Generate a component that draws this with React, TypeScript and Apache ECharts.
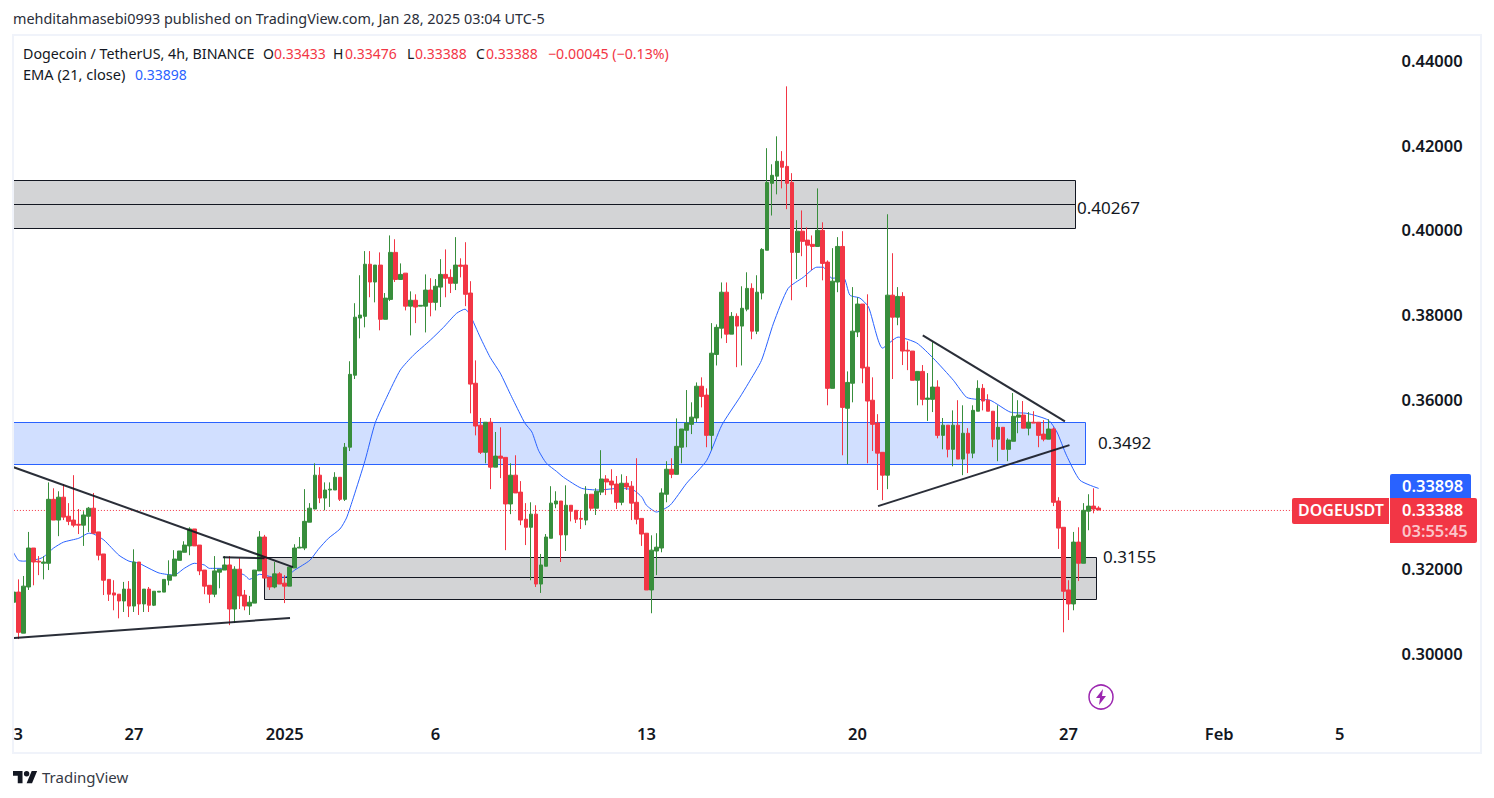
import React, { useEffect, useRef } from "react";
import * as echarts from "echarts";

// Each candle: [open, close, low, high]
const candlesDec1 = [
[.3121,.3145,.3121,.3188],[.3145,.3050,.3034,.3175],[.3048,.3159,.3048,.3183],[.3157,.3249,.3150,.3287],[.3249,.3216,.3161,.3249],
[.3218,.3216,.3185,.3230],[.3213,.3216,.3175,.3230],[.3213,.3364,.3197,.3404],[.3364,.3315,.3315,.3390],[.3315,.3369,.3277,.3383],
[.3369,.3322,.3315,.3400],[.3324,.3312,.3303,.3355],[.3315,.3303,.3298,.3421],[.3305,.3303,.3282,.3341],[.3303,.3327,.3254,.3336],
[.3324,.3343,.3287,.3346],[.3343,.3284,.3282,.3379],[.3287,.3232,.3220,.3287],[.3235,.3173,.3138,.3235],[.3175,.3140,.3124,.3175],
[.3143,.3138,.3102,.3173],[.3140,.3124,.3083,.3140],[.3124,.3152,.3098,.3169],[.3152,.3112,.3086,.3171],[.3112,.3216,.3098,.3246],
[.3216,.3117,.3091,.3216],[.3117,.3152,.3098,.3152],[.3152,.3114,.3098,.3157],[.3114,.3147,.3112,.3147],[.3145,.3147,.3145,.3147],
[.3145,.3175,.3145,.3175],[.3173,.3185,.3161,.3220],[.3183,.3223,.3183,.3244],[.3220,.3242,.3220,.3242],[.3239,.3256,.3239,.3265],
[.3254,.3294,.3232,.3298],[.3294,.3254,.3254,.3294],[.3256,.3195,.3185,.3256],[.3197,.3159,.3140,.3197],[.3161,.3140,.3119,.3161],
[.3140,.3195,.3133,.3230],[.3192,.3199,.3154,.3199],[.3197,.3209,.3197,.3230],[.3209,.3105,.3067,.3230],[.3105,.3199,.3072,.3206],
[.3199,.3136,.3105,.3225],[.3138,.3112,.3102,.3150],[.3112,.3121,.3091,.3136],[.3119,.3197,.3119,.3197],[.3195,.3275,.3195,.3289],
[.3275,.3178,.3178,.3280],[.3180,.3157,.3150,.3180],[.3157,.3188,.3154,.3216],[.3188,.3164,.3164,.3192],
];
const candlesJan1 = [
[.3166,.3159,.3119,.3185],[.3159,.3204,.3159,.3204],[.3202,.3249,.3202,.3258],[.3249,.3251,.3249,.3275],[.3249,.3312,.3244,.3388],
[.3310,.3343,.3310,.3355],[.3341,.3421,.3341,.3449],[.3421,.3367,.3355,.3440],[.3367,.3386,.3338,.3404],[.3386,.3388,.3346,.3404],
[.3386,.3416,.3386,.3428],[.3416,.3364,.3360,.3416],[.3364,.3487,.3360,.3497],[.3487,.3659,.3478,.3690],[.3657,.3794,.3648,.3827],
[.3792,.3799,.3744,.3893],[.3796,.3919,.3770,.3950],[.3919,.3877,.3841,.3950],[.3877,.3917,.3829,.3917],[.3917,.3789,.3763,.3947],
[.3789,.3839,.3789,.3851],[.3836,.3947,.3832,.3987],[.3947,.3883,.3877,.3978],[.3883,.3895,.3883,.3921],[.3898,.3820,.3810,.3898],
[.3820,.3834,.3751,.3855],[.3834,.3818,.3780,.3848],[.3820,.3822,.3820,.3822],[.3820,.3858,.3758,.3895],[.3858,.3829,.3796,.3886],
[.3829,.3867,.3810,.3884],[.3865,.3895,.3818,.3931],[.3895,.3886,.3841,.3954],[.3888,.3874,.3851,.3907],[.3874,.3917,.3858,.3983],
[.3917,.3914,.3888,.3933],[.3917,.3848,.3820,.3971],[.3851,.3636,.3567,.3879],[.3638,.3537,.3515,.3692],[.3539,.3475,.3471,.3556],
[.3475,.3546,.3449,.3546],[.3546,.3440,.3388,.3556],[.3440,.3466,.3440,.3523],[.3466,.3461,.3414,.3534],[.3463,.3353,.3244,.3463],
[.3353,.3421,.3329,.3449],[.3421,.3379,.3379,.3468],[.3381,.3315,.3303,.3407],[.3317,.3298,.3256,.3355],[.3298,.3329,.3173,.3357],
[.3329,.3164,.3157,.3350],[.3164,.3209,.3143,.3235],[.3206,.3275,.3206,.3282],[.3272,.3355,.3272,.3395],
];
const candlesJan2 = [
[.3353,.3360,.3343,.3383],[.3360,.3280,.3216,.3360],[.3280,.3350,.3242,.3397],[.3350,.3336,.3312,.3350],[.3338,.3317,.3308,.3338],
[.3319,.3317,.3294,.3338],[.3315,.3376,.3303,.3395],[.3376,.3343,.3338,.3376],[.3343,.3383,.3327,.3390],[.3381,.3412,.3374,.3480],
[.3412,.3405,.3374,.3421],[.3407,.3398,.3376,.3435],[.3400,.3357,.3341,.3419],[.3357,.3402,.3350,.3423],[.3402,.3393,.3386,.3419],
[.3395,.3355,.3315,.3407],[.3357,.3317,.3305,.3461],[.3319,.3282,.3254,.3319],[.3284,.3150,.3150,.3284],[.3150,.3244,.3095,.3279],
[.3242,.3251,.3185,.3284],[.3249,.3379,.3239,.3390],[.3376,.3435,.3357,.3454],[.3435,.3423,.3414,.3461],[.3423,.3489,.3423,.3555],
[.3487,.3530,.3449,.3530],[.3527,.3544,.3487,.3622],[.3541,.3558,.3518,.3593],[.3556,.3631,.3546,.3640],[.3631,.3607,.3581,.3652],
[.3610,.3515,.3487,.3626],[.3515,.3709,.3480,.3780],[.3706,.3770,.3680,.3777],[.3768,.3853,.3744,.3876],[.3853,.3754,.3733,.3876],
[.3754,.3796,.3754,.3806],[.3796,.3773,.3676,.3803],[.3773,.3815,.3680,.3867],[.3813,.3862,.3808,.3900],[.3862,.3761,.3742,.3874],
[.3761,.3853,.3754,.3893],[.3851,.3954,.3836,.3957],[.3952,.4112,.3952,.4193],[.4110,.4129,.4034,.4155],[.4127,.4162,.4084,.4221],
[.4162,.4148,.4098,.4186],[.4150,.4110,.4049,.4339],[.4112,.3947,.3834,.4134],[.3947,.3997,.3884,.4023],[.3997,.3973,.3938,.4046],
[.3976,.3964,.3865,.4006],[.3966,.3961,.3905,.3987],[.3961,.3999,.3961,.4098],[.3999,.3921,.3881,.4018],
];
const candlesJan3 = [
[.3924,.3626,.3586,.3928],[.3626,.3879,.3626,.3957],[.3877,.3961,.3853,.3983],[.3961,.3581,.3468,.3997],[.3579,.3640,.3447,.3666],
[.3638,.3761,.3593,.3865],[.3759,.3825,.3747,.3841],[.3825,.3674,.3638,.3825],[.3676,.3596,.3449,.3848],[.3598,.3541,.3478,.3652],
[.3544,.3473,.3386,.3565],[.3475,.3421,.3362,.3475],[.3421,.3846,.3388,.4037],[.3846,.3794,.3648,.3945],[.3794,.3843,.3775,.3865],
[.3843,.3714,.3681,.3853],[.3716,.3714,.3669,.3737],[.3714,.3645,.3645,.3714],[.3645,.3666,.3586,.3666],[.3666,.3600,.3586,.3681],
[.3600,.3603,.3549,.3662],[.3600,.3629,.3570,.3735],[.3629,.3515,.3508,.3645],[.3515,.3539,.3482,.3556],[.3539,.3482,.3463,.3539],
[.3482,.3539,.3442,.3574],[.3539,.3459,.3459,.3598],[.3459,.3520,.3421,.3586],[.3520,.3473,.3426,.3532],[.3473,.3574,.3461,.3586],
[.3572,.3626,.3572,.3645],[.3626,.3596,.3574,.3636],[.3598,.3572,.3572,.3612],[.3572,.3506,.3487,.3572],[.3506,.3534,.3454,.3586],
[.3534,.3482,.3482,.3534],[.3482,.3504,.3454,.3508],[.3501,.3560,.3501,.3615],[.3558,.3563,.3520,.3598],[.3563,.3532,.3532,.3596],
[.3532,.3546,.3515,.3570],[.3546,.3544,.3544,.3572],[.3546,.3515,.3487,.3546],[.3518,.3506,.3501,.3551],[.3506,.3530,.3506,.3553],
[.3530,.3357,.3348,.3534],[.3360,.3296,.3247,.3369],[.3298,.3147,.3050,.3298],[.3150,.3117,.3079,.3173],[.3117,.3263,.3102,.3287],
[.3263,.3213,.3171,.3298],[.3213,.3338,.3213,.3355],[.3336,.3348,.3291,.3376],[.3348,.3341,.3331,.3390],[.33433,.33388,.33388,.33476],
];
// EMA (21, close): [bar position, value]
const emaPoints = [
[0,.3239],[1,.3220],[2,.3218],[5,.3223],[6,.3228],[8,.3249],[10,.3263],[13,.3272],[15,.3284],[16,.3282],[18,.3268],[21,.3232],[23,.3218],[25,.3213],[27,.3201],[29,.3190],[32,.3185],[34,.3201],[36,.3213],[38,.3209],[39,.3201],[42,.3201],[43,.3199],[46,.3185],[47,.3175],[49,.3187],[52,.3180],[54,.3180],[56,.3197],[59,.3220],
[60.7,.3246],[62.7,.3272],[65,.3294],[66.3,.3320],[67.7,.3369],[70,.3456],[72,.3544],[74.3,.3605],[77,.3669],[79.6,.3704],[83,.3740],[85.6,.3770],[88.2,.3803],[89.9,.3813],[90.9,.3799],[92.9,.3747],[94.9,.3699],[96.9,.3662],[98.8,.3615],[99.5,.3598],[101.8,.3544],[103.2,.3523],[104.5,.3480],[106.1,.3449],[108.1,.3430],[109.5,.3416],[113.1,.3390],[116.4,.3386],[120.7,.3390],[123.4,.3386],[125.1,.3369],[126,.3350],[128,.3334],[130.7,.3350],[134,.3402],[138,.3456],[141,.3539],[144.6,.3605],[146.3,.3638],[148.9,.3692],[151.3,.3780],[154.2,.3862],[157.2,.3888],[159.9,.3912],[161.2,.3912],[162.9,.3886],[165.2,.3888],[166.5,.3846],[168.5,.3839],[170.2,.3818],[173,.3721],[176.1,.3747],[179.8,.3733],[183.1,.3697],[187.1,.3645],[189.7,.3605],[191.7,.3600],[194.4,.3598],[198.4,.3570],[201.7,.3567],[206,.3551],[207.7,.3523],[209.6,.3468],[212.3,.3409],[216,.33898],
];
const dayTicks: Record<number, string> = { 0: "3", 24: "27", 54: "2025", 84: "6", 126: "13", 168: "20", 210: "27", 240: "Feb", 264: "5" };
const barSlots = 275;
const lastClose = 0.33377;
// Zones: [from bar, upper, to bar, lower, middle]
const zoneResistance = [-0.5, 0.4118, 211.3, 0.4005, 0.4062];
const zoneBlue = [-0.5, 0.3546, 213.3, 0.3447];
const zoneSupport = [49.9, 0.3228, 215.5, 0.3130, 0.3180];
// Trend lines: pairs of [bar position, price]
const lineFalling1 = [[-0.5, 0.3442], [55.65, 0.3204]];
const lineRising1 = [[-0.5, 0.3036], [55.05, 0.3084]];
const lineFalling2 = [[181, 0.3751], [209.3, 0.3548]];
const lineRising2 = [[172.1, 0.3348], [210.2, 0.3492]];
const lineBoxTop = [[41.7, 0.3227], [50, 0.3225]];
const lastCloseLine = [[-0.5, lastClose], [barSlots - 0.5, lastClose]];

const FONT = "'Noto Sans', sans-serif";
const UP = "#388e3c";
const DOWN = "#f23645";
const DARK = "#131722";

export default function App() {
  const ref = useRef<HTMLDivElement>(null);
  useEffect(() => {
    const chart = echarts.init(ref.current!, null, { renderer: "svg" });
    echarts.graphic.registerShape(
      "tvlogo",
      echarts.graphic.extendPath(
        "M14 25H7V14H0V7h14v18zM28 25h-8l7.5-18h8L28 25zM24 11a4 4 0 1 1-8 0a4 4 0 1 1 8 0z",
        {}
      ) as any
    );
    const candles = [...candlesDec1, ...candlesJan1, ...candlesJan2, ...candlesJan3];
    const categories = Array.from({ length: barSlots }, (_, i) => dayTicks[i] ?? "");
    const trend = (data: number[][], width = 2) => ({
      type: "line",
      xAxisIndex: 1,
      yAxisIndex: 0,
      data,
      symbol: "none",
      z: 5,
      silent: true,
      lineStyle: { color: DARK, width, opacity: 0.9 },
    });
    const txt = (x: number, y: number, text: string, fill: string, fontSize = 14, fontWeight: any = 400, extra: any = {}) => ({
      type: "text",
      x,
      y,
      z: 20,
      style: { text, fill, font: `${fontWeight} ${fontSize}px ${FONT}`, textVerticalAlign: "middle", ...extra },
    });
    chart.setOption({
      animation: false,
      backgroundColor: "#ffffff",
      grid: { left: 10.9, top: 60.5, width: 1381.6, height: 593 },
      xAxis: [
        {
          type: "category",
          data: categories,
          boundaryGap: true,
          axisLine: { show: false },
          axisTick: { show: false },
          splitLine: { show: false },
          axisLabel: {
            interval: (_: number, v: string) => v !== "",
            margin: 71,
            color: DARK,
            fontFamily: FONT,
            fontSize: 16.5,
            fontWeight: 600,
            alignMinLabel: "left",
            hideOverlap: false,
          },
        },
        { type: "value", min: -0.5, max: barSlots - 0.5, show: false, splitLine: { show: false } },
      ],
      yAxis: {
        type: "value",
        position: "right",
        min: 0.3,
        max: 0.44,
        interval: 0.02,
        scale: true,
        axisLine: { show: false },
        axisTick: { show: false },
        splitLine: { show: false },
        axisLabel: {
          margin: 9,
          color: DARK,
          fontFamily: FONT,
          fontSize: 16.5,
          fontWeight: 600,
          padding: [0, 0, 3, 0],
          formatter: (v: number) => v.toFixed(5),
        },
      },
      series: [
        {
          type: "custom",
          xAxisIndex: 1,
          yAxisIndex: 0,
          z: 1,
          silent: true,
          clip: true,
          data: [[0], [1], [2]],
          renderItem: (params: any, api: any) => {
            const row = [zoneResistance, zoneBlue, zoneSupport][params.dataIndex];
            const fill = params.dataIndex === 1 ? "#d1dfff" : "#d3d4d6";
            const stroke = params.dataIndex === 1 ? "#2962ff" : DARK;
            const a = api.coord([row[0], row[1]]);
            const b = api.coord([row[2], row[3]]);
            const children: any[] = [
              {
                type: "rect",
                shape: { x: Math.round(a[0]) + 0.5, y: Math.round(a[1]) + 0.5, width: Math.round(b[0] - a[0]), height: Math.round(b[1] - a[1]) },
                style: { fill, stroke, lineWidth: 1 },
              },
            ];
            if (row.length > 4) {
              const m = Math.round(api.coord([row[0], row[4]])[1]) + 0.5;
              children.push({
                type: "line",
                shape: { x1: a[0], y1: m, x2: b[0], y2: m },
                style: { stroke, lineWidth: 1 },
              });
            }
            return { type: "group", children };
          },
        },
        {
          type: "line",
          xAxisIndex: 1,
          yAxisIndex: 0,
          data: emaPoints,
          symbol: "none",
          z: 2,
          silent: true,
          smooth: 0.2,
          lineStyle: { color: "#2962ff", width: 1 },
        },
        {
          type: "line",
          xAxisIndex: 1,
          yAxisIndex: 0,
          data: lastCloseLine,
          symbol: "none",
          z: 2,
          silent: true,
          lineStyle: { color: DOWN, type: [1, 2], width: 1 },
        },
        {
          type: "candlestick",
          xAxisIndex: 0,
          yAxisIndex: 0,
          data: candles,
          z: 3,
          silent: true,
          barWidth: 4.2,
          itemStyle: { color: UP, color0: DOWN, borderColor: UP, borderColor0: DOWN, borderWidth: 1 },
        },
        trend(lineFalling1),
        trend(lineRising1),
        trend(lineFalling2),
        trend(lineRising2),
        trend(lineBoxTop),
      ],
      graphic: [
        { type: "rect", z: 15, shape: { x: 8, y: 36, width: 4, height: 716 }, style: { fill: "#ffffff" } },
        { type: "rect", z: 16, shape: { x: 13, y: 35, width: 1468, height: 718 }, style: { fill: "none", stroke: "#f0f3fa", lineWidth: 2 } },
        txt(13, 18.5, "mehditahmasebi0993 published on TradingView.com, Jan 28, 2025 03:04 UTC-5", "#2a2e39", 14.4),
        txt(23, 53, "Dogecoin / TetherUS, 4h, BINANCE", DARK, 14.25),
        txt(263, 53, "O", DARK, 14),
        txt(274, 53, "0.33433", DOWN, 14),
        txt(333, 53, "H", DARK, 14),
        txt(345, 53, "0.33476", DOWN, 14),
        txt(407, 53, "L", DARK, 14),
        txt(415, 53, "0.33388", DOWN, 14),
        txt(476, 53, "C", DARK, 14),
        txt(486, 53, "0.33388", DOWN, 14),
        txt(548, 53, "\u22120.00045 (\u22120.13%)", DOWN, 14.2),
        txt(23, 74, "EMA (21, close)", DARK, 14.6),
        txt(135, 74, "0.33898", "#2962ff", 14),
        txt(1077, 207, "0.40267", DARK, 17),
        txt(1098, 442, "0.3492", DARK, 17),
        txt(1103, 556, "0.3155", DARK, 17),
        { type: "rect", z: 18, shape: { x: 1390, y: 474, width: 81, height: 25, r: [2, 2, 0, 0] }, style: { fill: "#2962ff" } },
        { type: "rect", z: 18, shape: { x: 1390, y: 498, width: 87, height: 45, r: [0, 2, 2, 0] }, style: { fill: DOWN } },
        { type: "rect", z: 18, shape: { x: 1292, y: 498, width: 97, height: 26, r: [2, 0, 0, 2] }, style: { fill: DOWN } },
        txt(1298, 510, "DOGEUSDT", "#ffffff", 16, 600),
        txt(1402, 485.5, "0.33898", "#ffffff", 16.5, 600),
        txt(1402, 509.5, "0.33388", "#ffffff", 16.5, 600),
        txt(1402, 530.5, "03:55:45", "#fbc5ca", 16.5, 600),
        { type: "circle", z: 18, shape: { cx: 1101, cy: 697, r: 12 }, style: { fill: "#ffffff", stroke: "#9c27b0", lineWidth: 1.5 } },
        { type: "polygon", z: 19, shape: { points: [[1103, 689], [1096, 698], [1100, 698], [1099, 705], [1106, 696], [1102, 696]] }, style: { fill: "#9c27b0" } },
        { type: "tvlogo", z: 20, x: 13, y: 766.2, scaleX: 0.68, scaleY: 0.68, style: { fill: DARK } },
        txt(42, 776.5, "TradingView", "#363a45", 15),
      ],
    });
    return () => chart.dispose();
  }, []);
  return <div ref={ref} style={{ position: "fixed", left: 0, top: 0, width: 1494, height: 798, background: "#fff" }} />;
}
